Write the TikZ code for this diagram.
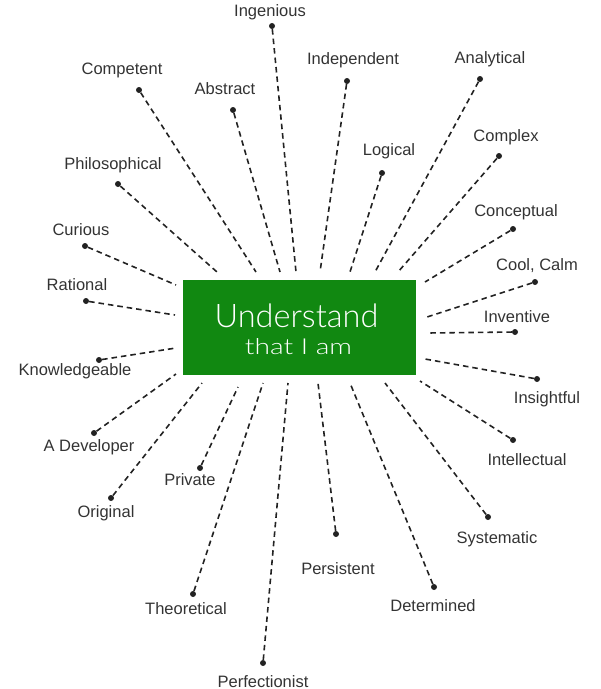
\documentclass[tikz,border=0pt]{standalone}
\usepackage{fontspec}
\setmainfont{Liberation Sans}
\newfontfamily\lightfont{Lato}[UprightFont={* Light}]
\definecolor{labelgray}{HTML}{333333}
\definecolor{linegray}{HTML}{222222}
\definecolor{boxgreen}{HTML}{118811}
\begin{document}
\begin{tikzpicture}[x=1pt,y=-1pt,
  lbl/.style={text=labelgray, font=\fontsize{16.5}{18}\selectfont, inner sep=0pt, anchor=base},
  dotn/.style={circle, fill=linegray, inner sep=0pt, minimum size=6pt},
  conn/.style={draw=linegray, line width=1.6pt, dash pattern=on 5.5pt off 4pt},
  corebox/.style={fill=boxgreen, minimum width=233pt, minimum height=95pt, inner sep=0pt},
  coretext/.style={text=white, inner sep=0pt, anchor=base}]
\useasboundingbox (0,0) rectangle (601,689);
\node[corebox] (core) at (299.5,327.5) {};
\node[coretext, font=\lightfont\fontsize{32.5}{33}\selectfont] (t1) at (296.5,327) {Understand};
\node[coretext, font=\lightfont\fontsize{22}{22}\selectfont] (t2) at (298.5,354) {\scalebox{1.28}[1]{that I am}};
\foreach \n/\lx/\ly/\dx/\dy/\ex/\ey/\t in {
  ing/270/10/272/26/296/272/Ingenious,
  com/122/68/139/90/256/272/Competent,
  abs/225/88/233/110/280/272/Abstract,
  phi/113/163/118/184/217/272/Philosophical,
  cur/81/229/85/246/176/285/Curious,
  rat/77/284/86/301/175/315/Rational,
  kno/75/369/99/360/176/348/Knowledgeable,
  dev/89/445/94/433/176/374/A Developer,
  ori/106/511/111/498/202/383/Original,
  pri/190/479/200/468/238/387/Private,
  the/186/608/193/594/263/383/Theoretical,
  per/263/681/263/663/288/383/Perfectionist,
  pers/338/568/336/534/318/383/Persistent,
  det/433/605/434/587/350/383/Determined,
  sys/497/537/488/517/385/383/Systematic,
  int/527/459/513/440/420/381/Intellectual,
  ins/547/397/537/379/425/359/Insightful,
  inv/517/316/515/332/427/333/Inventive,
  coo/537/264/535/282/427/317/{Cool, Calm},
  con/516/210/513/229/425/282/Conceptual,
  cpx/506/135/499/156/398/272/Complex,
  ana/490/57/480/79/375/272/Analytical,
  log/389/149/382/173/350/272/Logical,
  ind/353/58/347/81/320/272/Independent}{
  \node[lbl] (l-\n) at (\lx,\ly+6) {\t};
  \node[dotn] (d-\n) at (\dx,\dy) {};
  \coordinate (e-\n) at (\ex,\ey);
  \draw[conn] (d-\n) -- (e-\n);
}
\end{tikzpicture}
\end{document}
